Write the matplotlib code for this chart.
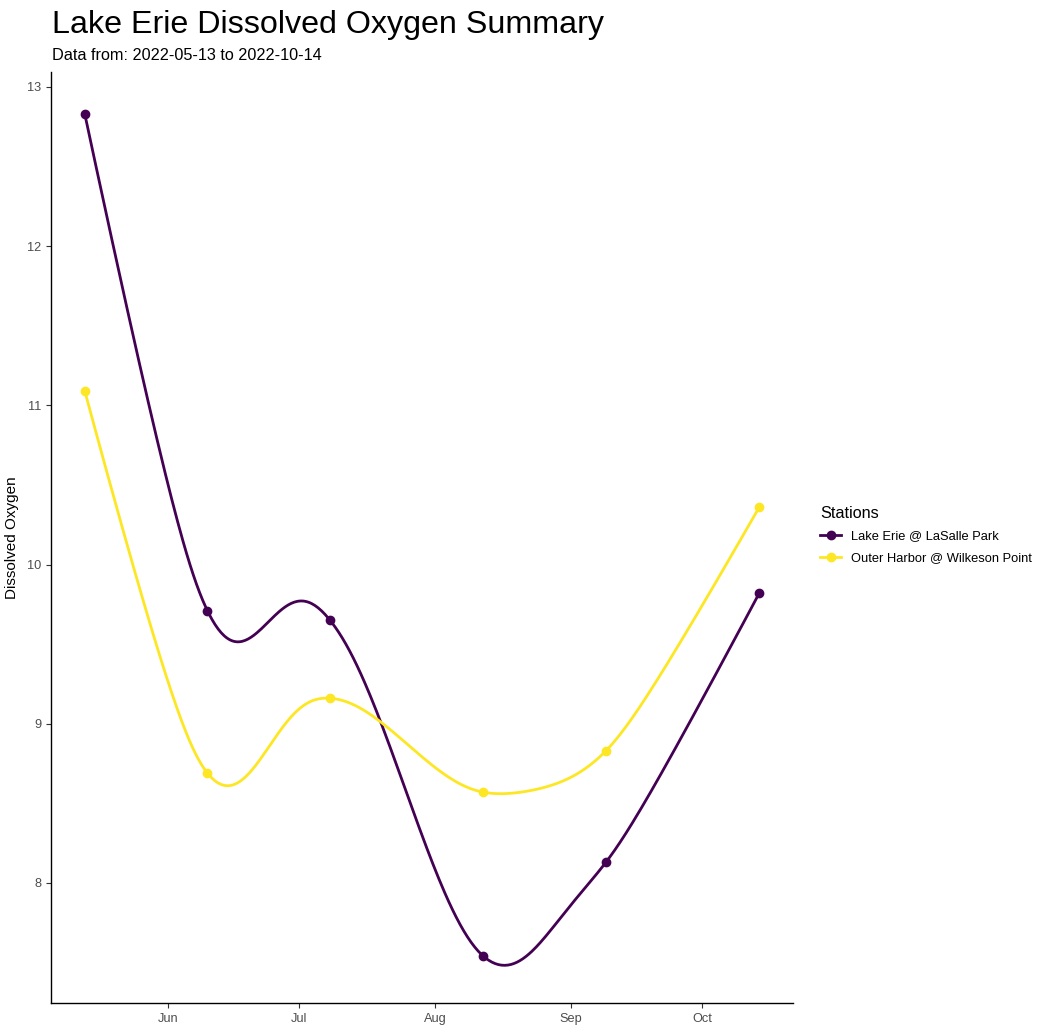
import matplotlib
matplotlib.use("Agg")
import matplotlib.pyplot as plt
import matplotlib.dates as mdates
from matplotlib.lines import Line2D
import numpy as np
import pandas as pd

plt.rcParams['font.family'] = ['Liberation Sans', 'DejaVu Sans']

# Sample dates and dissolved oxygen readings
dates = ["2022-05-13", "2022-06-10", "2022-07-08", "2022-08-12", "2022-09-09", "2022-10-14"]
lasalle = [12.83, 9.71, 9.65, 7.54, 8.13, 9.82]
wilkeson = [11.09, 8.69, 9.16, 8.57, 8.83, 10.36]
stations = ["Lake Erie @ LaSalle Park", "Outer Harbor @ Wilkeson Point"]
colors = ["#440154", "#FDE725"]


# X-spline (Blanc & Schlick) through the points, like ggalt::geom_xspline
def f_blend(num, den):
    p = 2 * den * den
    u = num / den
    return u ** 3 * (10 - p + (2 * p - 15) * u + (6 - p) * u * u)


def g_blend(u, q):
    return u * (q + u * (2 * q + u * (8 - 12 * q + u * (14 * q - 11 + u * (4 - 5 * q)))))


def h_blend(u, q):
    u2 = u * u
    return u * (q + u * (2 * q + u2 * (-2 * q - u * q)))


def xspline(x, y, shape=-0.5, steps=80):
    x = np.asarray(x, float)
    y = np.asarray(y, float)
    n = len(x)
    s = np.full(n, shape)
    s[0] = s[-1] = 0.0  # open spline: end shapes are forced to 0
    t = np.linspace(0, 1, steps, endpoint=False)
    xo, yo = [], []
    for i in range(n - 1):
        idx = [max(i - 1, 0), i, i + 1, min(i + 2, n - 1)]
        s1, s2 = s[i], s[i + 1]
        if s1 < 0:
            a0 = h_blend(-t, -s1)
            a2 = g_blend(t, -s1)
        else:
            a0 = np.where(t - s1 < 0, f_blend(t - s1, -1 - s1), 0.0)
            a2 = f_blend(t + s1, 1 + s1)
        if s2 < 0:
            a1 = g_blend(1 - t, -s2)
            a3 = h_blend(t - 1, -s2)
        else:
            a1 = f_blend(t - 1 - s2, -1 - s2)
            a3 = np.where(t - 1 + s2 > 0, f_blend(t - 1 + s2, 1 + s2), 0.0)
        w = np.vstack([a0, a1, a2, a3])
        tot = w.sum(axis=0)
        xo.append((w * x[idx][:, None]).sum(axis=0) / tot)
        yo.append((w * y[idx][:, None]).sum(axis=0) / tot)
    xo.append([x[-1]])
    yo.append([y[-1]])
    return np.concatenate(xo), np.concatenate(yo)


x = mdates.date2num(pd.to_datetime(dates))

fig = plt.figure(figsize=(10.37, 10.25), dpi=100)
ax = fig.add_axes([0.0492, 0.0215, 0.7155, 0.9083])

for vals, col in zip([lasalle, wilkeson], colors):
    sx, sy = xspline(x, vals)
    ax.plot(sx, sy, color=col, lw=2.0, zorder=2, solid_capstyle="round")
    ax.plot(x, vals, 'o', color=col, ms=6, zorder=3)

ax.set_xlim(mdates.date2num(pd.Timestamp("2022-05-05 07:00")),
            mdates.date2num(pd.Timestamp("2022-10-21 17:00")))
ax.set_ylim(7.246, 13.094)
ax.xaxis.set_major_locator(mdates.MonthLocator(bymonth=[6, 7, 8, 9, 10]))
ax.xaxis.set_major_formatter(mdates.DateFormatter("%b"))
ax.set_yticks([8, 9, 10, 11, 12, 13])
ax.tick_params(colors="#333333", labelcolor="#4D4D4D", labelsize=9.2, length=3.5, width=0.8)
for s in ["top", "right"]:
    ax.spines[s].set_visible(False)
for s in ["left", "bottom"]:
    ax.spines[s].set_linewidth(1.0)
ax.set_ylabel("Dissolved Oxygen", fontsize=11, labelpad=6)

fig.text(0.0502, 0.9678, "Lake Erie Dissolved Oxygen Summary", fontsize=23.2, va="baseline")
fig.text(0.0502, 0.9415, "Data from: 2022-05-13 to 2022-10-14", fontsize=11.7, va="baseline")

handles = [Line2D([], [], color=c, lw=2.0, marker='o', ms=6) for c in colors]
leg = fig.legend(handles, stations, title="Stations", loc="center left",
                 bbox_to_anchor=(0.78, 0.478), frameon=False, fontsize=9.3,
                 title_fontsize=11.7, handlelength=1.6, labelspacing=0.75)
leg._legend_box.align = "left"

fig.savefig("out.png", dpi=100)
